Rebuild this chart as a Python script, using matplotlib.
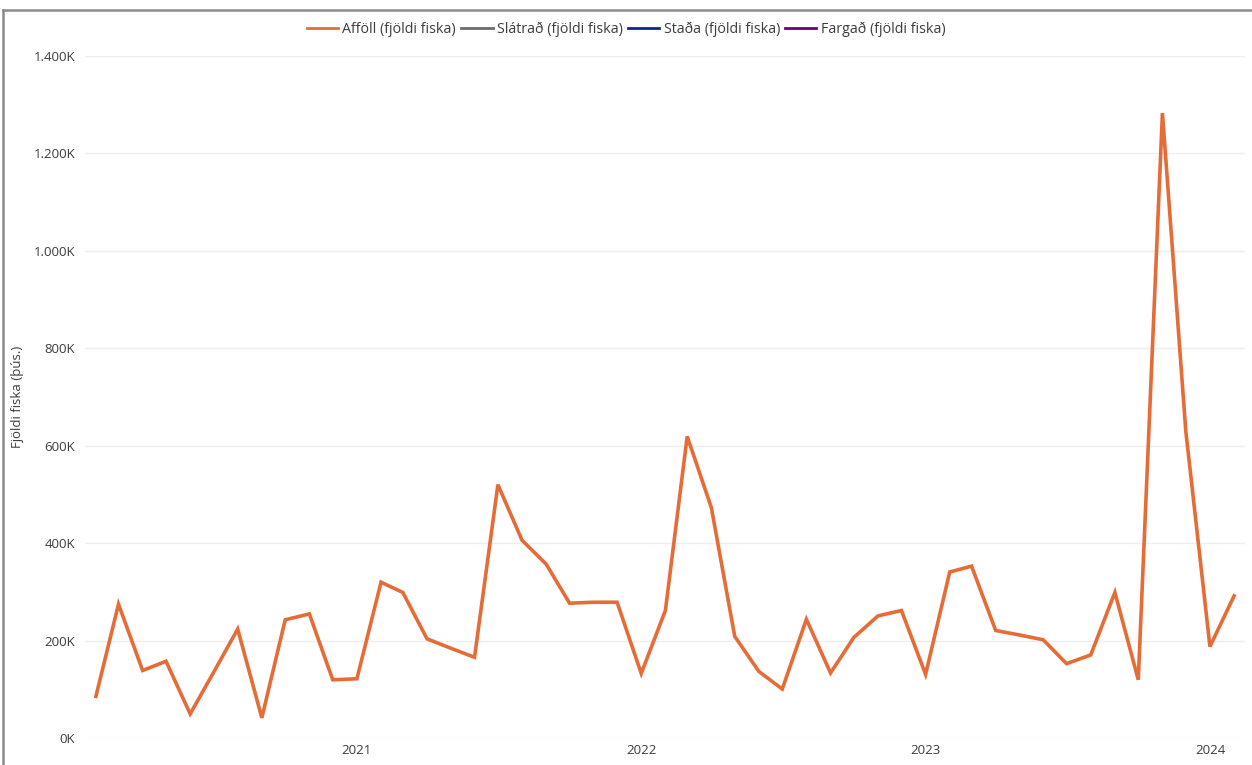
import pandas as pd
import matplotlib.pyplot as plt
from matplotlib.lines import Line2D
from matplotlib.ticker import FuncFormatter, MultipleLocator
import matplotlib.dates as mdates

# Afföll per month, Feb 2020 - Feb 2024 (thousands of fish)
months = pd.date_range("2020-02-01", periods=49, freq="MS")
affoll = [86, 275, 139, 158, 50, 135, 224, 42, 243, 255, 120, 122,
          320, 299, 204, 185, 166, 520, 406, 357, 277, 279, 279, 133,
          262, 619, 473, 209, 137, 101, 244, 134, 207, 251, 262, 131,
          341, 353, 221, 212, 202, 153, 171, 299, 120, 1282, 630, 188,
          292]

series_names = ["Afföll (fjöldi fiska)", "Slátrað (fjöldi fiska)",
                "Staða (fjöldi fiska)", "Fargað (fjöldi fiska)"]
series_colors = ["#E66C37", "#6B6B6B", "#12239E", "#6B007B"]

plt.rcParams["font.family"] = ["Open Sans", "DejaVu Sans"]
text_color = "#3C3C3C"

fig = plt.figure(figsize=(12.52, 7.65), dpi=100)
ax = fig.add_axes([85 / 1252, 1 - 738.3 / 765, 1160 / 1252, (738.3 - 55.5) / 765])

ax.plot(months, affoll, color=series_colors[0], lw=2.6, solid_joinstyle="miter")

ax.set_ylim(0, 1400)
ax.set_xlim(months[0] - pd.Timedelta(days=14), months[-1] + pd.Timedelta(days=14))
ax.yaxis.set_major_locator(MultipleLocator(200))
ax.yaxis.set_major_formatter(FuncFormatter(lambda v, p: f"{int(v):,}K".replace(",", ".")))
ax.xaxis.set_major_locator(mdates.YearLocator())
ax.xaxis.set_major_formatter(mdates.DateFormatter("%Y"))

ax.grid(axis="y", color="#EFEFEF", lw=1)
ax.set_axisbelow(True)
for s in ax.spines.values():
    s.set_visible(False)
ax.tick_params(axis="both", length=0, labelsize=9.5, colors=text_color)
ax.tick_params(axis="y", pad=7)
ax.tick_params(axis="x", pad=4)

fig.text(18 / 1252, 1 - 397 / 765, "Fjöldi fiska (þús.)", rotation=90,
         ha="center", va="center", fontsize=9.5, color=text_color)

handles = [Line2D([], [], color=c, lw=2) for c in series_colors]
fig.legend(handles, series_names, loc="center", bbox_to_anchor=(626 / 1252, 1 - 29 / 765),
           ncol=4, frameon=False, fontsize=10.3, handlelength=2.2, handletextpad=0.3,
           columnspacing=0.35, labelcolor=text_color)

# outer frame (left and top edges)
fig.add_artist(Line2D([3 / 1252, 3 / 1252], [0, 1 - 10 / 765], color="#8A8A8A", lw=1.8,
                      transform=fig.transFigure))
fig.add_artist(Line2D([3 / 1252, 1], [1 - 10 / 765, 1 - 10 / 765], color="#8A8A8A", lw=1.8,
                      transform=fig.transFigure))

fig.savefig("out.png", dpi=100)
